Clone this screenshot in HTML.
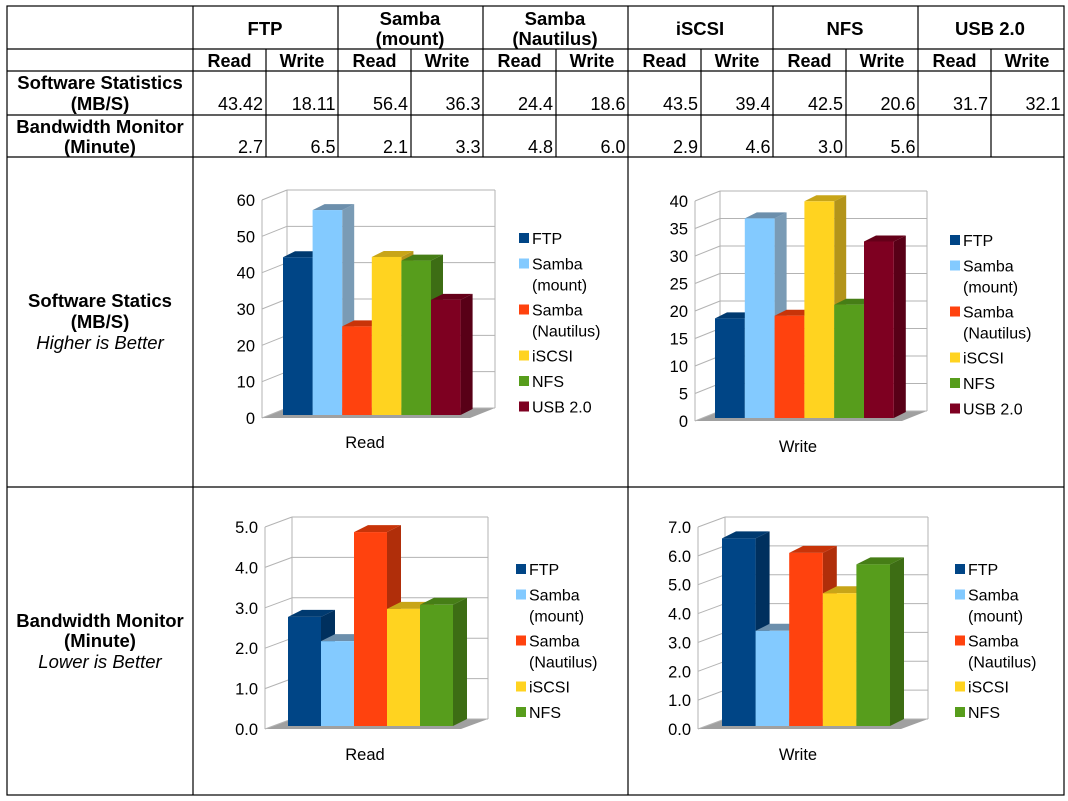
<!DOCTYPE html>
<html><head><meta charset="utf-8"><style>
body{margin:0;background:#fff;}
svg{display:block;font-family:"Liberation Sans",sans-serif;}
</style></head><body>
<svg id="s" width="1068" height="801" viewBox="0 0 1068 801">
<g id="tbl" stroke="#000" stroke-width="1.2" fill="none">
<rect x="7" y="6" width="1057" height="789"/>
<line x1="7" y1="49" x2="1064" y2="49"/>
<line x1="7" y1="71" x2="1064" y2="71"/>
<line x1="7" y1="115" x2="1064" y2="115"/>
<line x1="7" y1="157" x2="1064" y2="157"/>
<line x1="7" y1="487" x2="1064" y2="487"/>
<line x1="193" y1="6" x2="193" y2="795"/>
<line x1="628" y1="6" x2="628" y2="795"/>
<line x1="338" y1="6" x2="338" y2="157"/>
<line x1="483" y1="6" x2="483" y2="157"/>
<line x1="773" y1="6" x2="773" y2="157"/>
<line x1="918" y1="6" x2="918" y2="157"/>
<line x1="266" y1="49" x2="266" y2="157"/>
<line x1="411" y1="49" x2="411" y2="157"/>
<line x1="556" y1="49" x2="556" y2="157"/>
<line x1="701" y1="49" x2="701" y2="157"/>
<line x1="846" y1="49" x2="846" y2="157"/>
<line x1="991" y1="49" x2="991" y2="157"/>
</g>
<g font-size="18.5" font-weight="bold" text-anchor="middle">
<text x="265" y="35">FTP</text>
<text x="410" y="25">Samba</text><text x="410" y="45">(mount)</text>
<text x="555" y="25">Samba</text><text x="555" y="45">(Nautilus)</text>
<text x="700" y="35">iSCSI</text>
<text x="845" y="35">NFS</text>
<text x="990" y="35">USB 2.0</text>
<text x="100" y="89">Software Statistics</text><text x="100" y="110">(MB/S)</text>
<text x="100" y="133">Bandwidth Monitor</text><text x="100" y="153">(Minute)</text>
<text x="100" y="307">Software Statics</text><text x="100" y="328">(MB/S)</text>
<text x="100" y="349" font-weight="normal" font-style="italic">Higher is Better</text>
<text x="100" y="627">Bandwidth Monitor</text><text x="100" y="647">(Minute)</text>
<text x="100" y="668" font-weight="normal" font-style="italic">Lower is Better</text>
</g>
<g id="cells" font-size="18"></g>
<g id="charts"></g>
</svg>
<script>
const tblSoftware = ["43.42","18.11","56.4","36.3","24.4","18.6","43.5","39.4","42.5","20.6","31.7","32.1"];
const tblBandwidth = ["2.7","6.5","2.1","3.3","4.8","6.0","2.9","4.6","3.0","5.6","",""];
const seriesNames = ["FTP","Samba (mount)","Samba (Nautilus)","iSCSI","NFS","USB 2.0"];
const readMBs = [43.42,56.4,24.4,43.5,42.5,31.7];
const writeMBs = [18.11,36.3,18.6,39.4,20.6,32.1];
const readMin = [2.7,2.1,4.8,2.9,3.0];
const writeMin = [6.5,3.3,6.0,4.6,5.6];
const ticksTL = [0,10,20,30,40,50,60];
const ticksTR = [0,5,10,15,20,25,30,35,40];
const ticksBL = [0,1,2,3,4,5];
const ticksBR = [0,1,2,3,4,5,6,7];

const NS="http://www.w3.org/2000/svg";
function mk(tag,attrs,parent){const e=document.createElementNS(NS,tag);for(const k in attrs)e.setAttribute(k,attrs[k]);parent.appendChild(e);return e;}
const cells=document.getElementById('cells');
for(let i=0;i<12;i++){
  const x=266+i*72.5-3;
  const t=mk('text',{x:x,y:110,'text-anchor':'end'},cells);t.textContent=tblSoftware[i];
  
  
  const b=mk('text',{x:x,y:153,'text-anchor':'end'},cells);b.textContent=tblBandwidth[i];
  
  
  const h=mk('text',{x:229.5+i*72.5,y:67,'text-anchor':'middle','font-weight':'bold'},cells);h.textContent=i%2?'Write':'Read';
  
  
}
const fills=["#004586","#83caff","#ff420e","#ffd320","#579d1c","#7e0021"];
const sides=["#00305e","#7a9bb5","#b02e0a","#b3941a","#3d6d14","#580017"];
const tops=["#003a70","#6c8fac","#c83409","#c8a518","#467e16","#650019"];
const legendLines=[["FTP"],["Samba","(mount)"],["Samba","(Nautilus)"],["iSCSI"],["NFS"],["USB 2.0"]];
const charts=document.getElementById('charts');
function chart(c){
  const g=mk('g',{},charts);
  
  
  const max=c.ticks[c.ticks.length-1];
  const k=(c.y0-c.yTop)/max;
  const bdx=c.bl-c.ax, bdy=-10;
  const yF=v=>c.y0-v*k, yB=v=>c.y0+bdy-v*k;
  mk('polygon',{points:`${c.ax},${c.y0} ${c.bl},${c.y0+bdy} ${c.br},${c.y0+bdy} ${c.br-bdx},${c.y0}`,fill:'#a0a0a0'},g);
  mk('line',{x1:c.bl,y1:yB(max),x2:c.bl,y2:yB(0),stroke:'#b3b3b3'},g);
  mk('line',{x1:c.br,y1:yB(max),x2:c.br,y2:yB(0),stroke:'#b3b3b3'},g);
  mk('line',{x1:c.ax,y1:yF(max),x2:c.ax,y2:yF(0),stroke:'#b3b3b3'},g);
  c.ticks.forEach(v=>{
    mk('line',{x1:c.bl,y1:yB(v),x2:c.br,y2:yB(v),stroke:'#b3b3b3'},g);
    mk('line',{x1:c.ax,y1:yF(v),x2:c.bl,y2:yB(v),stroke:'#b3b3b3'},g);
    const t=mk('text',{x:c.ax-7,y:yF(v)+6,'text-anchor':'end','font-size':16.5},g);
    t.textContent=c.dec?v.toFixed(1):v;
    
    
  });
  const base=c.y0-3, dx=c.dx, dy=-c.dx/2;
  c.values.forEach((v,i)=>{
    const x=c.bx+i*c.bw, w=c.bw, top=base-v*k;
    const side=mk('polygon',{points:`${x+w},${top} ${x+w+dx},${top+dy} ${x+w+dx},${base+dy} ${x+w},${base}`,fill:sides[i]},g);
    
    
    const tp=mk('polygon',{points:`${x},${top} ${x+dx},${top+dy} ${x+w+dx},${top+dy} ${x+w},${top}`,fill:tops[i]},g);
    
    
    const r=mk('rect',{x:x,y:top,width:w,height:base-top,fill:fills[i]},g);
    
    
  });
  const xl=mk('text',{x:c.xlx,y:c.xly,'text-anchor':'middle','font-size':16.5},g);
  xl.textContent=c.xlabel;
  
  
  let ly=c.ly;
  c.values.forEach((v,i)=>{
    const lg=mk('g',{},g);
    
    
    mk('rect',{x:c.lx,y:ly-11,width:10,height:10,fill:fills[i]},lg);
    legendLines[i].forEach((s,j)=>{const t=mk('text',{x:c.lx+13,y:ly+j*21,'font-size':16},lg);t.textContent=s;});
    ly+=legendLines[i].length===2?46:25.5;
  });
}
chart({name:'chart-read-mbs',values:readMBs,ticks:ticksTL,ax:262,y0:418,yTop:200,bl:287,br:495,bx:283,bw:29.6,dx:12,xlabel:'Read',xlx:365,xly:448,lx:519,ly:244,dec:false});
chart({name:'chart-write-mbs',values:writeMBs,ticks:ticksTR,ax:695,y0:421,yTop:201,bl:720,br:927,bx:715,bw:29.8,dx:12,xlabel:'Write',xlx:798,xly:452,lx:950,ly:246,dec:false});
chart({name:'chart-read-minutes',values:readMin,ticks:ticksBL,ax:265,y0:729,yTop:527,bl:292,br:488,bx:288,bw:33,dx:14,xlabel:'Read',xlx:365,xly:760,lx:516,ly:575,dec:true});
chart({name:'chart-write-minutes',values:writeMin,ticks:ticksBR,ax:698,y0:729,yTop:527,bl:725,br:928,bx:722,bw:33.6,dx:14,xlabel:'Write',xlx:798,xly:760,lx:955,ly:575,dec:true});
</script>
</body></html>
